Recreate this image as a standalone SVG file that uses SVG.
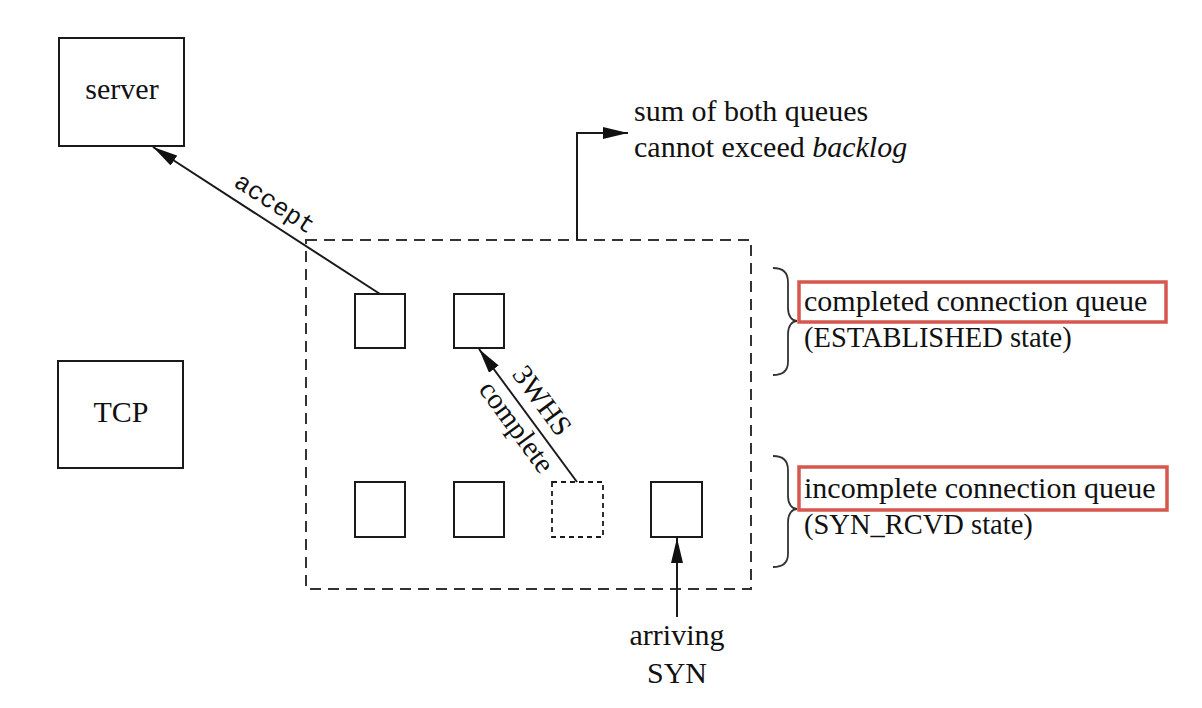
<svg xmlns="http://www.w3.org/2000/svg" width="1202" height="708" viewBox="0 0 1202 708">
<defs>
<style>
.box{fill:#fff;stroke:#1a1a1a;stroke-width:2}
.q{fill:#fff;stroke:#1a1a1a;stroke-width:2}
.qd{fill:#fff;stroke:#1a1a1a;stroke-width:1.8;stroke-dasharray:5 4}
.frame{fill:none;stroke:#333;stroke-width:2;stroke-dasharray:11 7}
.ln{fill:none;stroke:#1a1a1a;stroke-width:2}
.br{fill:none;stroke:#333;stroke-width:1.8}
.red{fill:none;stroke:#d6574d;stroke-width:3.5}
.t{font-family:"Liberation Serif","Times New Roman",serif;font-size:30px;fill:#111}
.ts{font-family:"Liberation Serif","Times New Roman",serif;font-size:28.5px;fill:#111}
.mono{font-family:"Liberation Mono","Courier New",monospace;font-size:25px;fill:#111}
</style>
<marker id="ah" markerUnits="userSpaceOnUse" markerWidth="25" markerHeight="12" refX="25" refY="6" orient="auto">
<path d="M0,0 L25,6 L0,12 z" fill="#111"/>
</marker>
</defs>
<rect width="1202" height="708" fill="#fff"/>

<g id="server"><rect class="box" x="59" y="38" width="125" height="108"/><text class="t" x="122" y="99" text-anchor="middle">server</text></g>
<g id="tcp"><rect class="box" x="58" y="361" width="125" height="107"/><text class="t" x="121" y="422" text-anchor="middle">TCP</text></g>

<g id="listen-frame"><rect class="frame" x="306" y="240" width="445" height="349"/></g>

<g id="completed-1"><rect class="q" x="355" y="294" width="50" height="54"/></g>
<g id="completed-2"><rect class="q" x="454" y="294" width="50" height="54"/></g>
<g id="incomplete-1"><rect class="q" x="355" y="482" width="50" height="55"/></g>
<g id="incomplete-2"><rect class="q" x="454" y="482" width="50" height="55"/></g>
<g id="incomplete-moving"><rect class="qd" x="552" y="482" width="51" height="55"/></g>
<g id="incomplete-new"><rect class="q" x="651" y="482" width="51" height="55"/></g>

<g id="connectors">
<line class="ln" x1="380" y1="294" x2="153" y2="147" marker-end="url(#ah)"/>
<line class="ln" x1="577" y1="482" x2="479" y2="349" marker-end="url(#ah)"/>
<line class="ln" x1="677" y1="617" x2="677" y2="538" marker-end="url(#ah)"/>
<polyline class="ln" points="577,240 577,133 628,133" marker-end="url(#ah)"/>
</g>

<g id="labels">
<g transform="translate(153,147) rotate(32.9)"><text class="mono" x="133" y="-11" text-anchor="middle">accept</text></g>
<g transform="translate(479,349) rotate(53.8)"><text class="t" x="79" y="-11" text-anchor="middle" style="font-size:29px">3WHS</text><text class="t" x="85" y="25" text-anchor="middle" style="font-size:29px">complete</text></g>
<text class="t" x="634" y="121">sum of both queues</text>
<text class="t" x="634" y="157">cannot exceed <tspan font-style="italic">backlog</tspan></text>
<text class="t" x="677" y="645" text-anchor="middle">arriving</text>
<text class="t" x="677" y="683" text-anchor="middle">SYN</text>
</g>

<g id="completed-queue-label">
<path class="br" d="M773,268 C783,268 788,272 788,282 L788,308 C788,316 792,321 797,321 C792,321 788,326 788,334 L788,362 C788,371 783,375 773,375"/>
<rect class="red" x="799" y="282" width="367" height="40"/>
<text class="t" x="804" y="311">completed connection queue</text>
<text class="ts" x="804" y="347">(ESTABLISHED state)</text>
</g>

<g id="incomplete-queue-label">
<path class="br" d="M773,456 C783,456 788,460 788,470 L788,496 C788,504 792,509 797,509 C792,509 788,514 788,522 L788,554 C788,563 783,567 773,567"/>
<rect class="red" x="799" y="467" width="368" height="43"/>
<text class="t" x="804" y="498">incomplete connection queue</text>
<text class="ts" x="804" y="534">(SYN_RCVD state)</text>
</g>
</svg>
